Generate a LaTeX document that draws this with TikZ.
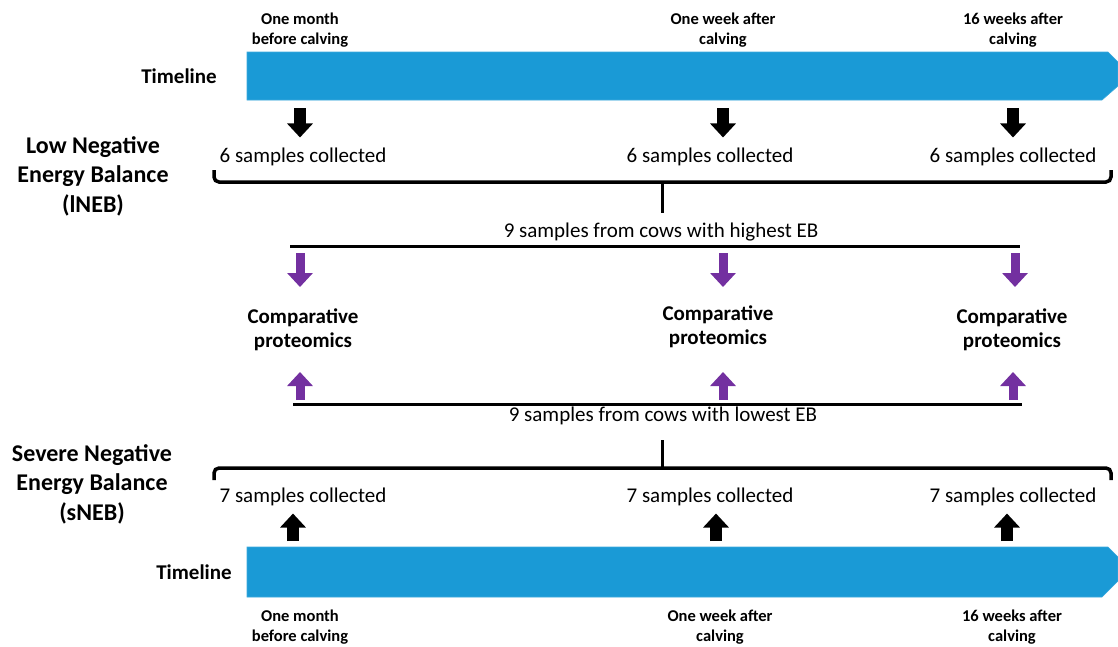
\documentclass[tikz,border=0pt]{standalone}
\usepackage{fontspec}
\setmainfont{Carlito}
\usepackage{xcolor}
\usepackage{tikz}
\usetikzlibrary{arrows.meta,positioning,calc}

\definecolor{tlblue}{HTML}{1A9AD6}
\definecolor{cmpurple}{HTML}{7330A0}

\begin{document}
\begin{tikzpicture}[x=1pt, y=-1pt,
  timebar/.style={fill=tlblue, draw=tlblue!85!white, line width=0.6pt},
  when/.style={font=\fontsize{16.5}{20}\selectfont\bfseries, align=center},
  sample/.style={font=\fontsize{21}{25}\selectfont},
  tllab/.style={font=\fontsize{21}{25}\selectfont\bfseries},
  grouplab/.style={font=\fontsize{24}{29.5}\selectfont\bfseries, align=center},
  compare/.style={font=\fontsize{21}{24.5}\selectfont\bfseries, align=center},
  bracket/.style={line width=3.5pt, rounded corners=5pt},
  split/.style={line width=3pt},
  blockarrow/.style={line width=12pt, -{Triangle[width=25pt,length=14pt]}},
  purplearrow/.style={cmpurple, line width=9pt, -{Triangle[width=25pt,length=14pt]}}
]
  \useasboundingbox (0,0) rectangle (1118,646);

  % Timelines
  \draw[timebar] (247,52) -- (1108,52) -- (1118,62) -- (1118,86) -- (1102,100)
    -- (247,100) -- cycle;
  \draw[timebar] (247,547) -- (1108,547) -- (1118,557) -- (1118,581) -- (1102,597)
    -- (247,597) -- cycle;
  \node[tllab] (tltop) at (179,76) {Timeline};
  \node[tllab] (tlbot) at (194,572) {Timeline};

  % Group labels
  \node[grouplab] (lneb) at (93,176) {Low Negative\\Energy Balance\\(lNEB)};
  \node[grouplab] (sneb) at (92,484) {Severe Negative\\Energy Balance\\(sNEB)};

  % Top timeline: labels, arrows, samples
  \foreach \i/\x/\sx/\txt in {1/300/303/{One month\\before calving},
                             2/723/710/{One week after\\calving},
                             3/1013/1013/{16 weeks after\\calving}} {
    \node[when] (wt\i) at (\x,30) {\txt};
    \node[sample] (st\i) at (\sx,157) {6 samples collected};
    \coordinate (dt\i) at (\x,108);
    \draw[blockarrow, shorten >=7pt] (dt\i) -- (dt\i |- st\i.north);
  }

  % Bottom timeline: labels, arrows, samples
  \foreach \i/\x/\wx/\sx/\txt in {1/293/300/303/{One month\\before calving},
                                 2/716/720/710/{One week after\\calving},
                                 3/1007/1012/1013/{16 weeks after\\calving}} {
    \node[when] (wb\i) at (\wx,627) {\txt};
    \node[sample] (sb\i) at (\sx,497) {7 samples collected};
    \coordinate (db\i) at (\x,541);
    \draw[blockarrow, shorten >=4pt] (db\i) -- (db\i |- sb\i.south);
  }

  % Brackets
  \draw[bracket] (214,170) -- (214,182) -- (1111,182) -- (1111,170);
  \draw[split] (662,182) -- (662,213);
  \draw[bracket] (214,480) -- (214,468) -- (1111,468) -- (1111,480);
  \draw[split] (662,468) -- (662,440);

  % Selected cows
  \node[sample] (high) at (661,232) {9 samples from cows with highest EB};
  \node[sample] (low) at (663,416) {9 samples from cows with lowest EB};
  \draw[split] (290,246) -- (1020,246);
  \draw[split] (293,404) -- (1022,404);

  % Comparative proteomics
  \foreach \i/\cx/\cy/\dx/\ux in {1/303/330/300/300, 2/718/327/723/723,
                                 3/1012/330/1015/1013} {
    \node[compare] (cp\i) at (\cx,\cy) {Comparative\\proteomics};
    \coordinate (ph\i) at (\dx,253);
    \coordinate (pl\i) at (\ux,400);
    \draw[purplearrow] (ph\i) -- (\dx,287);
    \draw[purplearrow] (pl\i) -- (\ux,372);
  }
\end{tikzpicture}
\end{document}
